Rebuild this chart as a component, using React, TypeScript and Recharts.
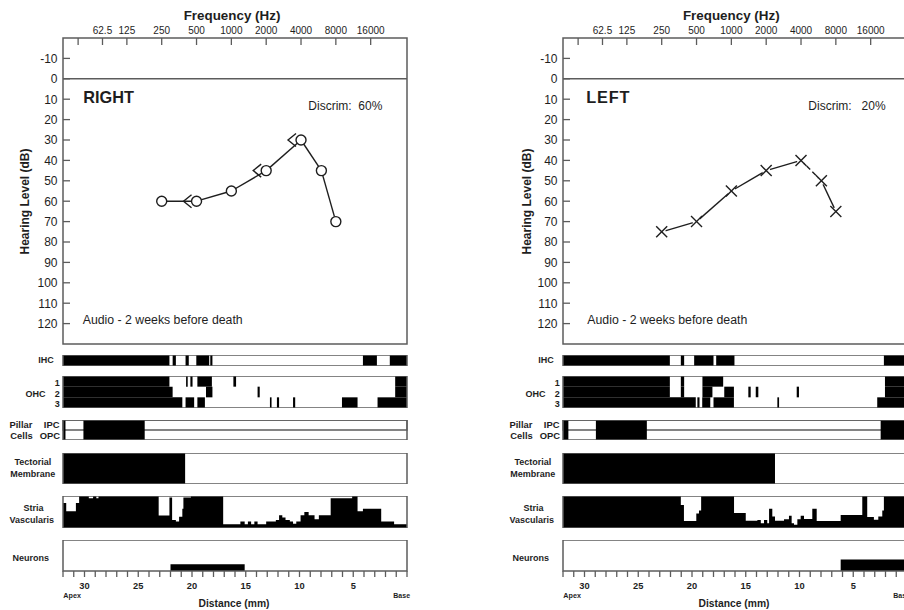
import React from 'react';
import { ComposedChart, Line, Area, XAxis, YAxis, ReferenceArea, ReferenceLine } from 'recharts';

const FONT = '"Liberation Sans", Arial, Helvetica, sans-serif';
const INK = '#1e1e1e';
const FRAME = '#5c5c5c';

// ---------- audiogram axes ----------
const FREQ_TICK_POS = [-2.4, -1.7, -1, 0, 1, 2, 3, 4, 5, 6];
const FREQ_TICK_LABELS = ['', '62.5', '125', '250', '500', '1000', '2000', '4000', '8000', '16000'];
const FREQ_DOMAIN: [number, number] = [-2.834, 7.043];
const DB_TICKS = [-10, 0, 10, 20, 30, 40, 50, 60, 70, 80, 90, 100, 110, 120];
const DB_DOMAIN: [number, number] = [-20, 130];

// ---------- audiogram data ----------
const AUDIO_FREQS = [250, 500, 1000, 2000, 4000, 6000, 8000];
const RIGHT_AIR_DB = [60, 60, 55, 45, 30, 45, 70];
const RIGHT_SEG_DASHED = [false, false, false, false, false, false];
const RIGHT_BONE_FREQS = [500, 2000, 4000];
const RIGHT_BONE_DB = [60, 45, 30];
const LEFT_AIR_DB = [75, 70, 55, 45, 40, 50, 65];
const LEFT_SEG_DASHED = [false, false, false, false, true, false];
const LEFT_BONE_FREQS: number[] = [];
const LEFT_BONE_DB: number[] = [];

// ---------- cochleogram axis ----------
const DIST_DOMAIN: [number, number] = [0, 32];
const DIST_TICKS = [32, 31, 30, 29, 28, 27, 26, 25, 24, 23, 22, 21, 20, 19, 18, 17, 16, 15, 14, 13, 12, 11, 10, 9, 8, 7, 6, 5, 4, 3, 2, 1, 0];
const DIST_LABELS = [30, 25, 20, 15, 10, 5];

type Seg = [number, number];
type Step = [number, number];

// ---------- RIGHT ear cochleogram (black = loss), mm from base ----------
const IHC_R: Seg[] = [[32, 22.1], [21.8, 21.5], [20.6, 20.3], [19.6, 18.4], [18.3, 18.1], [4.1, 2.8], [1.6, 0]];
const OHC1_R: Seg[] = [[32, 22.1], [20.55, 20.4], [20.15, 19.95], [19.5, 18.15], [16.15, 15.9], [1.1, 0]];
const OHC2_R: Seg[] = [[32, 21.8], [18.7, 18.1], [13.9, 13.7], [1.1, 0]];
const OHC3_R: Seg[] = [[32, 20.9], [20.6, 19.8], [19.5, 18.8], [12.75, 12.6], [12.1, 11.9], [10.6, 10.4], [6.05, 4.6], [2.74, 0]];
const IPC_R: Seg[] = [[32, 31.77], [30.1, 24.4]];
const OPC_R: Seg[] = [[32, 31.77], [30.1, 24.4]];
const TM_R: Seg[] = [[32, 20.64]];
const STRIA_R: Step[] = [[32, 0.78], [31.7, 0.52], [30.8, 0.78], [30.5, 1], [29.6, 0.93], [29.2, 1], [28.9, 0.93], [28.7, 1], [23.1, 0.39], [22.1, 0.95], [21.85, 0.25], [21.5, 0.2], [21.2, 0.35], [20.9, 0.6], [20.8, 0.95], [20.1, 1], [17.1, 0.12], [15.5, 0.2], [15.1, 0.12], [14.8, 0.2], [14.5, 0.12], [14.2, 0.2], [13.9, 0.12], [13.1, 0.2], [12.2, 0.25], [11.9, 0.4], [11.6, 0.33], [11.3, 0.25], [10.9, 0.2], [10.6, 0.13], [10.3, 0.2], [9.9, 0.4], [9.55, 0.5], [9.15, 0.4], [8.6, 0.27], [8.2, 0.4], [7.1, 0.93], [5.1, 1], [4.6, 0.52], [4.1, 0.6], [2.4, 0.2], [1.2, 0.12], [0, 0.12]];
const NEURON_R: Step[] = [[32, 0], [22.0, 0.22], [15.1, 0], [0, 0]];

// ---------- LEFT ear cochleogram ----------
const IHC_L: Seg[] = [[32, 22.06], [21.04, 20.73], [19.8, 18.0], [17.75, 16.05], [2.15, 0]];
const OHC1_L: Seg[] = [[32, 22.06], [21.04, 20.73], [19.03, 17.1], [2.05, 0]];
const OHC2_L: Seg[] = [[32, 22.06], [21.04, 20.73], [19.03, 18.1], [17.0, 16.1], [14.76, 14.54], [14.07, 13.83], [10.26, 10.05], [2.05, 0]];
const OHC3_L: Seg[] = [[32, 19.65], [19.5, 19.3], [19.05, 18.3], [18.0, 16.1], [12.06, 11.9], [2.77, 0]];
const IPC_L: Seg[] = [[32, 31.5], [28.94, 24.2], [2.45, 0]];
const OPC_L: Seg[] = [[32, 31.5], [28.94, 24.2], [2.45, 0]];
const TM_L: Seg[] = [[32, 12.28]];
const STRIA_L: Step[] = [[32, 1], [21.04, 0.72], [20.75, 0.22], [19.6, 0.45], [19.35, 0.55], [19.15, 1], [16.09, 0.47], [15.0, 0.23], [13.92, 0.25], [13.6, 0.15], [13.3, 0.25], [13.0, 0.15], [12.83, 0.6], [12.53, 0.36], [12.28, 0.23], [11.44, 0.27], [10.98, 0.38], [10.73, 0.15], [10.51, 0.1], [10.2, 0.27], [9.89, 0.38], [9.58, 0.28], [8.81, 0.6], [8.4, 0.22], [6.17, 0.41], [4.16, 1], [3.7, 0.34], [3.08, 0.26], [2.67, 0.36], [2.3, 0.55], [2.15, 1], [0, 1]];
const NEURON_L: Step[] = [[32, 0], [6.17, 0.37], [0, 0.37]];

const EDGE_ROWS = DIST_DOMAIN.map((mm) => ({ mm }));

function audioTable(air: number[], dashed: boolean[], boneF: number[], boneDb: number[]) {
  return AUDIO_FREQS.map((f, i) => {
    const row: Record<string, number | null> = { oct: Math.log2(f / 250), db: air[i] };
    dashed.forEach((_, s) => {
      row['seg' + s] = i === s || i === s + 1 ? air[i] : null;
    });
    const b = boneF.indexOf(f);
    row.bone = b >= 0 ? boneDb[b] : null;
    return row;
  });
}

const FreqTick = (props: any) => {
  const { x, y, payload } = props;
  const i = FREQ_TICK_POS.indexOf(payload.value);
  return (
    <g>
      <line x1={x} x2={x} y1={y} y2={y + 7} stroke={FRAME} strokeWidth={1.3} />
      <text x={x} y={y - 4} textAnchor="middle" fontSize={10} fontFamily={FONT} fill={INK}>
        {i >= 0 ? FREQ_TICK_LABELS[i] : ''}
      </text>
    </g>
  );
};

const DbTick = (props: any) => {
  const { x, y, payload } = props;
  return (
    <g>
      <line x1={x} x2={x + 7} y1={y} y2={y} stroke={FRAME} strokeWidth={1.3} />
      <text x={x - 5.5} y={y + 4.3} textAnchor="end" fontSize={12} fontFamily={FONT} fill={INK}>
        {payload.value}
      </text>
    </g>
  );
};

const DistTick = (props: any) => {
  const { x, y, payload } = props;
  return (
    <g>
      <line x1={x} x2={x} y1={y} y2={y + 6} stroke={FRAME} strokeWidth={1.3} />
      {DIST_LABELS.includes(payload.value) ? (
        <text x={x} y={y + 18} textAnchor="middle" fontSize={9.3} fontWeight="bold" fontFamily={FONT} fill={INK}>
          {payload.value}
        </text>
      ) : null}
    </g>
  );
};

const CircleDot = (props: any) => {
  const { cx, cy, index, value } = props;
  if (cx == null || cy == null || value == null) return <g key={index} />;
  return <circle key={index} cx={cx} cy={cy} r={5} fill="#fff" stroke={INK} strokeWidth={1.4} />;
};

const CrossDot = (props: any) => {
  const { cx, cy, index, value } = props;
  if (cx == null || cy == null || value == null) return <g key={index} />;
  const h = 5.5;
  return (
    <g key={index}>
      <circle cx={cx} cy={cy} r={4} fill="#fff" stroke="none" />
      <line x1={cx - h} y1={cy - h} x2={cx + h} y2={cy + h} stroke={INK} strokeWidth={1.4} />
      <line x1={cx - h} y1={cy + h} x2={cx + h} y2={cy - h} stroke={INK} strokeWidth={1.4} />
    </g>
  );
};

const BoneDot = (props: any) => {
  const { cx, cy, index, value } = props;
  if (cx == null || cy == null || value == null) return <g key={index} />;
  return (
    <path
      key={index}
      d={`M${cx - 5} ${cy - 6.5} L${cx - 13} ${cy} L${cx - 5} ${cy + 6.5}`}
      fill="none"
      stroke={INK}
      strokeWidth={1.4}
    />
  );
};

function Audiogram({ left, air, dashed, boneF, boneDb, cross }: any) {
  const table = audioTable(air, dashed, boneF, boneDb);
  return (
    <div style={{ position: 'absolute', left, top: 0, width: 420, height: 350 }}>
      <ComposedChart width={420} height={350} data={table} margin={{ top: 37, right: 13, bottom: 6, left: 62 }}>
        <XAxis
          type="number"
          dataKey="oct"
          orientation="top"
          domain={FREQ_DOMAIN}
          ticks={FREQ_TICK_POS}
          interval={0}
          height={1}
          tickSize={0}
          tickMargin={0}
          tickLine={false}
          axisLine={false}
          tick={FreqTick}
          allowDataOverflow
        />
        <YAxis
          type="number"
          domain={DB_DOMAIN}
          reversed
          ticks={DB_TICKS}
          interval={0}
          width={1}
          tickSize={0}
          tickMargin={0}
          tickLine={false}
          axisLine={false}
          tick={DbTick}
          allowDataOverflow
        />
        <ReferenceArea
          x1={FREQ_DOMAIN[0]}
          x2={FREQ_DOMAIN[1]}
          y1={DB_DOMAIN[0]}
          y2={DB_DOMAIN[1]}
          fill="none"
          stroke={FRAME}
          strokeWidth={1.5}
          ifOverflow="visible"
        />
        <ReferenceLine y={0} stroke={FRAME} strokeWidth={1.5} ifOverflow="visible" />
        {dashed.map((d: boolean, s: number) => (
          <Line
            key={'seg' + s}
            dataKey={'seg' + s}
            type="linear"
            stroke={INK}
            strokeWidth={1.4}
            strokeDasharray={d ? '5 3' : undefined}
            dot={false}
            activeDot={false}
            connectNulls={false}
            isAnimationActive={false}
          />
        ))}
        <Line dataKey="bone" stroke="none" dot={BoneDot} activeDot={false} isAnimationActive={false} />
        <Line dataKey="db" stroke="none" dot={cross ? CrossDot : CircleDot} activeDot={false} isAnimationActive={false} />
      </ComposedChart>
    </div>
  );
}

function SegStrip({ left, top, height, rows, divider }: { left: number; top: number; height: number; rows: Seg[][]; divider?: boolean }) {
  const n = rows.length;
  return (
    <div style={{ position: 'absolute', left, top, width: 420, height }}>
      <ComposedChart width={420} height={height} data={EDGE_ROWS} margin={{ top: 0, right: 13, bottom: 0, left: 63 }}>
        <XAxis type="number" dataKey="mm" domain={DIST_DOMAIN} reversed hide height={0} allowDataOverflow />
        <YAxis type="number" domain={[0, n]} hide width={0} allowDataOverflow />
        {divider ? (
          <ReferenceArea x1={0} x2={32} y1={1} y2={2} fill="none" stroke={FRAME} strokeWidth={1.3} ifOverflow="visible" />
        ) : null}
        {rows.map((segs, r) =>
          segs.map(([a, b], k) => (
            <ReferenceArea
              key={`${r}-${k}`}
              x1={a}
              x2={b}
              y1={n - r - 1}
              y2={n - r}
              fill="#000"
              fillOpacity={1}
              stroke="none"
              ifOverflow="visible"
            />
          ))
        )}
        <ReferenceArea x1={0} x2={32} y1={0} y2={n} fill="none" stroke={FRAME} strokeWidth={1.5} ifOverflow="visible" />
      </ComposedChart>
    </div>
  );
}

function ProfileStrip({ left, top, height, steps, axis }: { left: number; top: number; height: number; steps: Step[]; axis?: boolean }) {
  const table = steps.map(([mm, f]) => ({ mm, f }));
  const extra = axis ? 40 : 0;
  return (
    <div style={{ position: 'absolute', left, top, width: 420, height: height + extra }}>
      <ComposedChart width={420} height={height + extra} data={table} margin={{ top: 0, right: 13, bottom: 0, left: 63 }}>
        <XAxis
          type="number"
          dataKey="mm"
          domain={DIST_DOMAIN}
          reversed
          allowDataOverflow
          hide={!axis}
          height={extra}
          ticks={DIST_TICKS}
          interval={0}
          tick={axis ? DistTick : false}
          tickLine={false}
          axisLine={false}
          tickSize={0}
          tickMargin={0}
        />
        <YAxis type="number" domain={[0, 1]} hide width={0} allowDataOverflow />
        <Area
          type="stepAfter"
          dataKey="f"
          stroke="none"
          fill="#000"
          fillOpacity={1}
          dot={false}
          activeDot={false}
          isAnimationActive={false}
        />
        <ReferenceArea x1={0} x2={32} y1={0} y2={1} fill="none" stroke={FRAME} strokeWidth={1.5} ifOverflow="visible" />
      </ComposedChart>
    </div>
  );
}

const PANELS = [
  {
    ox: 0,
    ear: 'RIGHT',
    earX: 83.3,
    earSpacing: 0,
    discrim: 'Discrim:  60%',
    audioX: 82.7,
    hlX: 28.7,
    freqX: 232,
    air: RIGHT_AIR_DB,
    dashed: RIGHT_SEG_DASHED,
    boneF: RIGHT_BONE_FREQS,
    boneDb: RIGHT_BONE_DB,
    cross: false,
    ihc: IHC_R,
    ohc: [OHC1_R, OHC2_R, OHC3_R],
    pillar: [IPC_R, OPC_R],
    tm: TM_R,
    stria: STRIA_R,
    neurons: NEURON_R,
  },
  {
    ox: 500,
    ear: 'LEFT',
    earX: 86.3,
    earSpacing: 0.8,
    discrim: 'Discrim:   20%',
    audioX: 87.3,
    hlX: 31,
    freqX: 231.3,
    air: LEFT_AIR_DB,
    dashed: LEFT_SEG_DASHED,
    boneF: LEFT_BONE_FREQS,
    boneDb: LEFT_BONE_DB,
    cross: true,
    ihc: IHC_L,
    ohc: [OHC1_L, OHC2_L, OHC3_L],
    pillar: [IPC_L, OPC_L],
    tm: TM_L,
    stria: STRIA_L,
    neurons: NEURON_L,
  },
];

function T({ x, y, children, size = 9, bold = true, anchor = 'start', spacing = 0, rotate = false }: any) {
  return (
    <text
      x={x}
      y={y}
      fontSize={size}
      fontWeight={bold ? 'bold' : 'normal'}
      fontFamily={FONT}
      fill={INK}
      textAnchor={anchor}
      letterSpacing={spacing}
      xmlSpace="preserve"
      style={{ whiteSpace: 'pre' }}
      transform={rotate ? `rotate(-90 ${x} ${y})` : undefined}
    >
      {children}
    </text>
  );
}

function PanelLabels({ p }: { p: any }) {
  const o = p.ox;
  return (
    <g>
      <T x={o + p.freqX} y={20} size={13.4} anchor="middle">Frequency (Hz)</T>
      <T x={o + p.hlX} y={201.5} size={12} anchor="middle" rotate>Hearing Level (dB)</T>
      <T x={o + p.earX} y={102.5} size={16.3} spacing={p.earSpacing}>{p.ear}</T>
      <T x={o + 308.3} y={110.3} size={12} bold={false}>{p.discrim}</T>
      <T x={o + p.audioX} y={324.4} size={12.3} bold={false}>Audio - 2 weeks before death</T>
      <T x={o + 53.8} y={363.3} anchor="end">IHC</T>
      <T x={o + 59.8} y={386} anchor="end">1</T>
      <T x={o + 59.8} y={396.5} anchor="end">2</T>
      <T x={o + 59.8} y={407.3} anchor="end">3</T>
      <T x={o + 45.5} y={396.5} anchor="end">OHC</T>
      <T x={o + 9.5} y={428.3} size={9.4}>Pillar</T>
      <T x={o + 10.3} y={439.3} size={9.4}>Cells</T>
      <T x={o + 59.5} y={428.3} size={9.4} anchor="end">IPC</T>
      <T x={o + 60} y={439.3} size={9.4} anchor="end">OPC</T>
      <T x={o + 32.8} y={465} anchor="middle">Tectorial</T>
      <T x={o + 32.8} y={476.5} anchor="middle">Membrane</T>
      <T x={o + 33.5} y={511} anchor="middle">Stria</T>
      <T x={o + 31.7} y={522.5} anchor="middle">Vascularis</T>
      <T x={o + 30.8} y={560.5} anchor="middle">Neurons</T>
      <T x={o + 63.3} y={598.3} size={7.2}>Apex</T>
      <T x={o + 393.3} y={598.3} size={7}>Base</T>
      <T x={o + 234} y={607} size={10.3} anchor="middle">Distance (mm)</T>
    </g>
  );
}

function Panel({ p }: { p: any }) {
  const o = p.ox;
  return (
    <>
      <Audiogram left={o} air={p.air} dashed={p.dashed} boneF={p.boneF} boneDb={p.boneDb} cross={p.cross} />
      <SegStrip left={o} top={355} height={11} rows={[p.ihc]} />
      <SegStrip left={o} top={376} height={32} rows={p.ohc} />
      <SegStrip left={o} top={420} height={20} rows={p.pillar} divider />
      <SegStrip left={o} top={453} height={31} rows={[p.tm]} />
      <ProfileStrip left={o} top={496} height={32} steps={p.stria} />
      <ProfileStrip left={o} top={540} height={31} steps={p.neurons} axis />
    </>
  );
}

export default function App() {
  return (
    <div
      style={{
        position: 'fixed',
        left: 0,
        top: 0,
        width: 904,
        height: 610,
        overflow: 'hidden',
        background: '#fff',
        fontFamily: FONT,
      }}
    >
      {PANELS.map((p) => (
        <Panel key={p.ear} p={p} />
      ))}
      <svg width={904} height={610} style={{ position: 'absolute', left: 0, top: 0, pointerEvents: 'none' }}>
        {PANELS.map((p) => (
          <PanelLabels key={p.ear} p={p} />
        ))}
      </svg>
    </div>
  );
}
